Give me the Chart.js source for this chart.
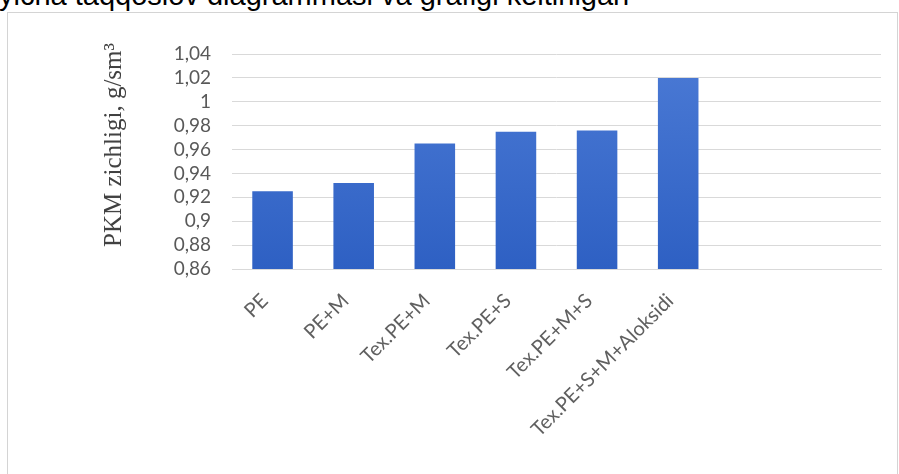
<!DOCTYPE html>
<html>
<head>
<meta charset="utf-8">
<script src="https://cdn.jsdelivr.net/npm/chart.js@4"></script>
<style>
  html, body { margin: 0; padding: 0; background: #fff; overflow: hidden; }
  body { width: 899px; height: 474px; position: relative; }
  #caption { position: absolute; left: -1px; top: -19px; font: 29px/29px "Liberation Sans", Arial, sans-serif; color: #000; white-space: nowrap; }
  #frame { position: absolute; left: 7px; top: 12px; width: 891px; height: 480px; border: 1px solid #d4d4d4; box-sizing: border-box; }
  #wrap { position: absolute; left: 0; top: 0; width: 899px; height: 474px; }
  #ytitle { position: absolute; left: 113px; top: 145px; transform: translate(-50%, -50%) rotate(-90deg); font: 25px "Liberation Serif", "Times New Roman", serif; color: #404040; white-space: nowrap; }
</style>
</head>
<body>
<div id="caption">yicha taqqoslov diagrammasi va grafigi keltirilgan</div>
<div id="frame"></div>
<div id="wrap"><canvas id="myChart" width="899" height="474"></canvas></div>
<div id="ytitle">PKM zichligi, g/sm³</div>
<script>
// samples (two empty slots on the right, like the original sheet)
const labels = ['PE', 'PE+M', 'Tex.PE+M', 'Tex.PE+S', 'Tex.PE+M+S', 'Tex.PE+S+M+Aloksidi', '', ''];
const density = [0.925, 0.932, 0.965, 0.975, 0.976, 1.02, null, null];
const yTicks = [0.86, 0.88, 0.9, 0.92, 0.94, 0.96, 0.98, 1, 1.02, 1.04];

chartIt();

function chartIt(){
    const ctx = document.getElementById('myChart');

    new Chart(ctx, {
    type: 'bar',
    data: {
        labels: labels,
        datasets: [{
        label: 'PKM zichligi',
        data: density,
        backgroundColor: function(c) {
            const area = c.chart.chartArea;
            if (!area) return '#3a6bcc';
            const g = c.chart.ctx.createLinearGradient(0, area.top, 0, area.bottom);
            g.addColorStop(0, '#4b7ad5');
            g.addColorStop(1, '#2e60c3');
            return g;
        },
        borderWidth: 0,
        barPercentage: 0.5,
        categoryPercentage: 1
                }]
            },
        options: {
            responsive: false,
            animation: false,
            layout: { padding: { top: 54, right: 18, left: 0, bottom: 0 } },
            plugins: { legend: { display: false }, tooltip: { enabled: false } },
            scales: {
                x: {
                    grid: { display: false },
                    border: { color: '#d9d9d9', width: 1 },
                    ticks: {
                        autoSkip: false,
                        minRotation: 45,
                        maxRotation: 45,
                        padding: 12,
                        labelOffset: -8,
                        color: '#606060',
                        font: { family: 'Lato', size: 20 }
                    },
                    afterFit: function(scale) { scale.height = 205; }
                },
                y: {
                    min: 0.86,
                    max: 1.04,
                    afterBuildTicks: function(scale) {
                        scale.ticks = yTicks.map(v => ({ value: v }));
                    },
                    grid: { color: '#d9d9d9', lineWidth: 1, drawTicks: false },
                    border: { display: false },
                    ticks: {
                        autoSkip: false,
                        padding: 21,
                        color: '#595959',
                        font: { family: 'Lato', size: 19 },
                        callback: function(value) {
                            return String(value).replace('.', ',');
                        }
                    },
                    afterFit: function(scale) { scale.width = 232; }
                }
            }
        }
    });
}
</script>
</body>
</html>
